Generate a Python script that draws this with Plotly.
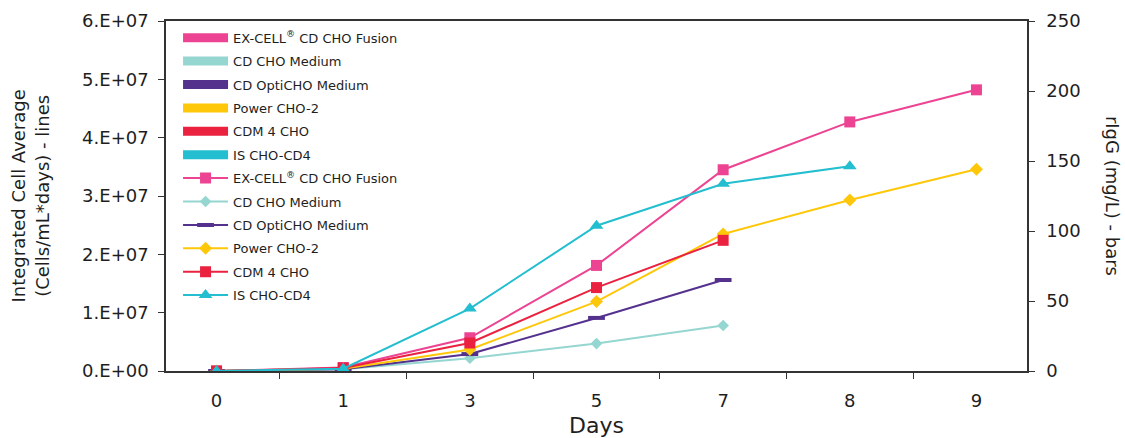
import plotly.graph_objects as go

days = ["0", "1", "3", "5", "7", "8", "9"]
series_names = ["EX-CELL<sup>®</sup> CD CHO Fusion", "CD CHO Medium", "CD OptiCHO Medium",
                "Power CHO-2", "CDM 4 CHO", "IS CHO-CD4"]

# Integrated cell average (cells/mL*days) - lines
excell_ica = [0, 0.06e7, 0.57e7, 1.81e7, 3.45e7, 4.27e7, 4.82e7]
cdcho_ica = [0, 0.03e7, 0.22e7, 0.47e7, 0.78e7, None, None]
opticho_ica = [0, 0.03e7, 0.29e7, 0.91e7, 1.56e7, None, None]
power_ica = [0, 0.04e7, 0.37e7, 1.19e7, 2.35e7, 2.93e7, 3.46e7]
cdm4_ica = [0, 0.05e7, 0.48e7, 1.43e7, 2.24e7, None, None]
ischo_ica = [0, 0.04e7, 1.07e7, 2.49e7, 3.21e7, 3.51e7, None]

# rIgG (mg/L) - bars (no bar values shown in the chart)
rigg_values = [None] * 7

left_tickvals = [0, 1e7, 2e7, 3e7, 4e7, 5e7, 6e7]
left_ticktext = ["0.E+00", "1.E+07", "2.E+07", "3.E+07", "4.E+07", "5.E+07", "6.E+07"]
right_tickvals = [0, 50, 100, 150, 200, 250]

colors = ["#EC4392", "#95D6D1", "#55318E", "#FFC709", "#EA2240", "#23BECF"]
symbols = ["square", "diamond", "line-ew", "diamond", "square", "triangle-up"]
sizes = [11, 9, 12, 10, 11, 12]
line_series = [excell_ica, cdcho_ica, opticho_ica, power_ica, cdm4_ica, ischo_ica]

FONT = "DejaVu Sans"
TXT = "#1e1e1e"
fig = go.Figure()

# rIgG bar series (empty) - shown in legend as wide colour blocks
for i, name in enumerate(series_names):
    fig.add_trace(go.Scatter(x=days, y=rigg_values, name=name, mode="lines",
                             line=dict(color=colors[i], width=9),
                             yaxis="y2", legendgroup=f"b{i}", showlegend=True))

for i, name in enumerate(series_names):
    mk = dict(symbol=symbols[i], size=sizes[i], color=colors[i])
    if symbols[i] == "line-ew":
        mk["line"] = dict(color=colors[i], width=4)
    fig.add_trace(go.Scatter(x=days, y=line_series[i], name=name, mode="lines+markers",
                             line=dict(color=colors[i], width=2), marker=mk,
                             legendgroup=f"l{i}", connectgaps=False))

fig.update_layout(
    width=1125, height=438,
    margin=dict(l=166, r=98, t=21, b=67, autoexpand=False),
    plot_bgcolor="white", paper_bgcolor="white",
    font=dict(family=FONT, size=18, color=TXT),
    showlegend=True,
    legend=dict(x=0.014, y=0.995, xanchor="left", yanchor="top",
                font=dict(size=13, color=TXT), bgcolor="rgba(0,0,0,0)",
                traceorder="grouped", tracegroupgap=3.5, itemwidth=45),
    xaxis=dict(type="category", categoryorder="array", categoryarray=days,
               tickson="boundaries", ticks="outside", ticklen=6, tickcolor="#333",
               ticklabelstandoff=13, automargin=False,
               showline=True, linecolor="#333", linewidth=1.5, mirror=True,
               showgrid=False, zeroline=False,
               title=dict(text="Days", standoff=8)),
    yaxis=dict(range=[0, 6e7], tickvals=left_tickvals, ticktext=left_ticktext,
               ticks="outside", ticklen=6, tickcolor="#333", ticklabelstandoff=6,
               automargin=False,
               showline=True, linecolor="#333", linewidth=1.5,
               showgrid=False, zeroline=False),
    yaxis2=dict(range=[0, 250], tickvals=right_tickvals, overlaying="y", side="right",
                ticks="outside", ticklen=6, tickcolor="#333", ticklabelstandoff=8,
                automargin=False,
                showline=True, linecolor="#333", linewidth=1.5,
                showgrid=False, zeroline=False),
    annotations=[
        dict(text="Integrated Cell Average<br>(Cells/mL*days) - lines", textangle=-90,
             x=-0.1574, xref="paper", y=0.5, yref="paper", showarrow=False,
             xanchor="center", yanchor="middle",
             font=dict(family=FONT, size=18, color=TXT)),
        dict(text="rIgG (mg/L) - bars", textangle=90, x=1.1, xref="paper",
             y=0.5, yref="paper", showarrow=False, xanchor="center", yanchor="middle",
             font=dict(family=FONT, size=18, color=TXT)),
    ],
)

fig.write_html("out.html", config={"displayModeBar": False},
               post_script="document.body.style.margin='0';document.body.style.padding='0';")
